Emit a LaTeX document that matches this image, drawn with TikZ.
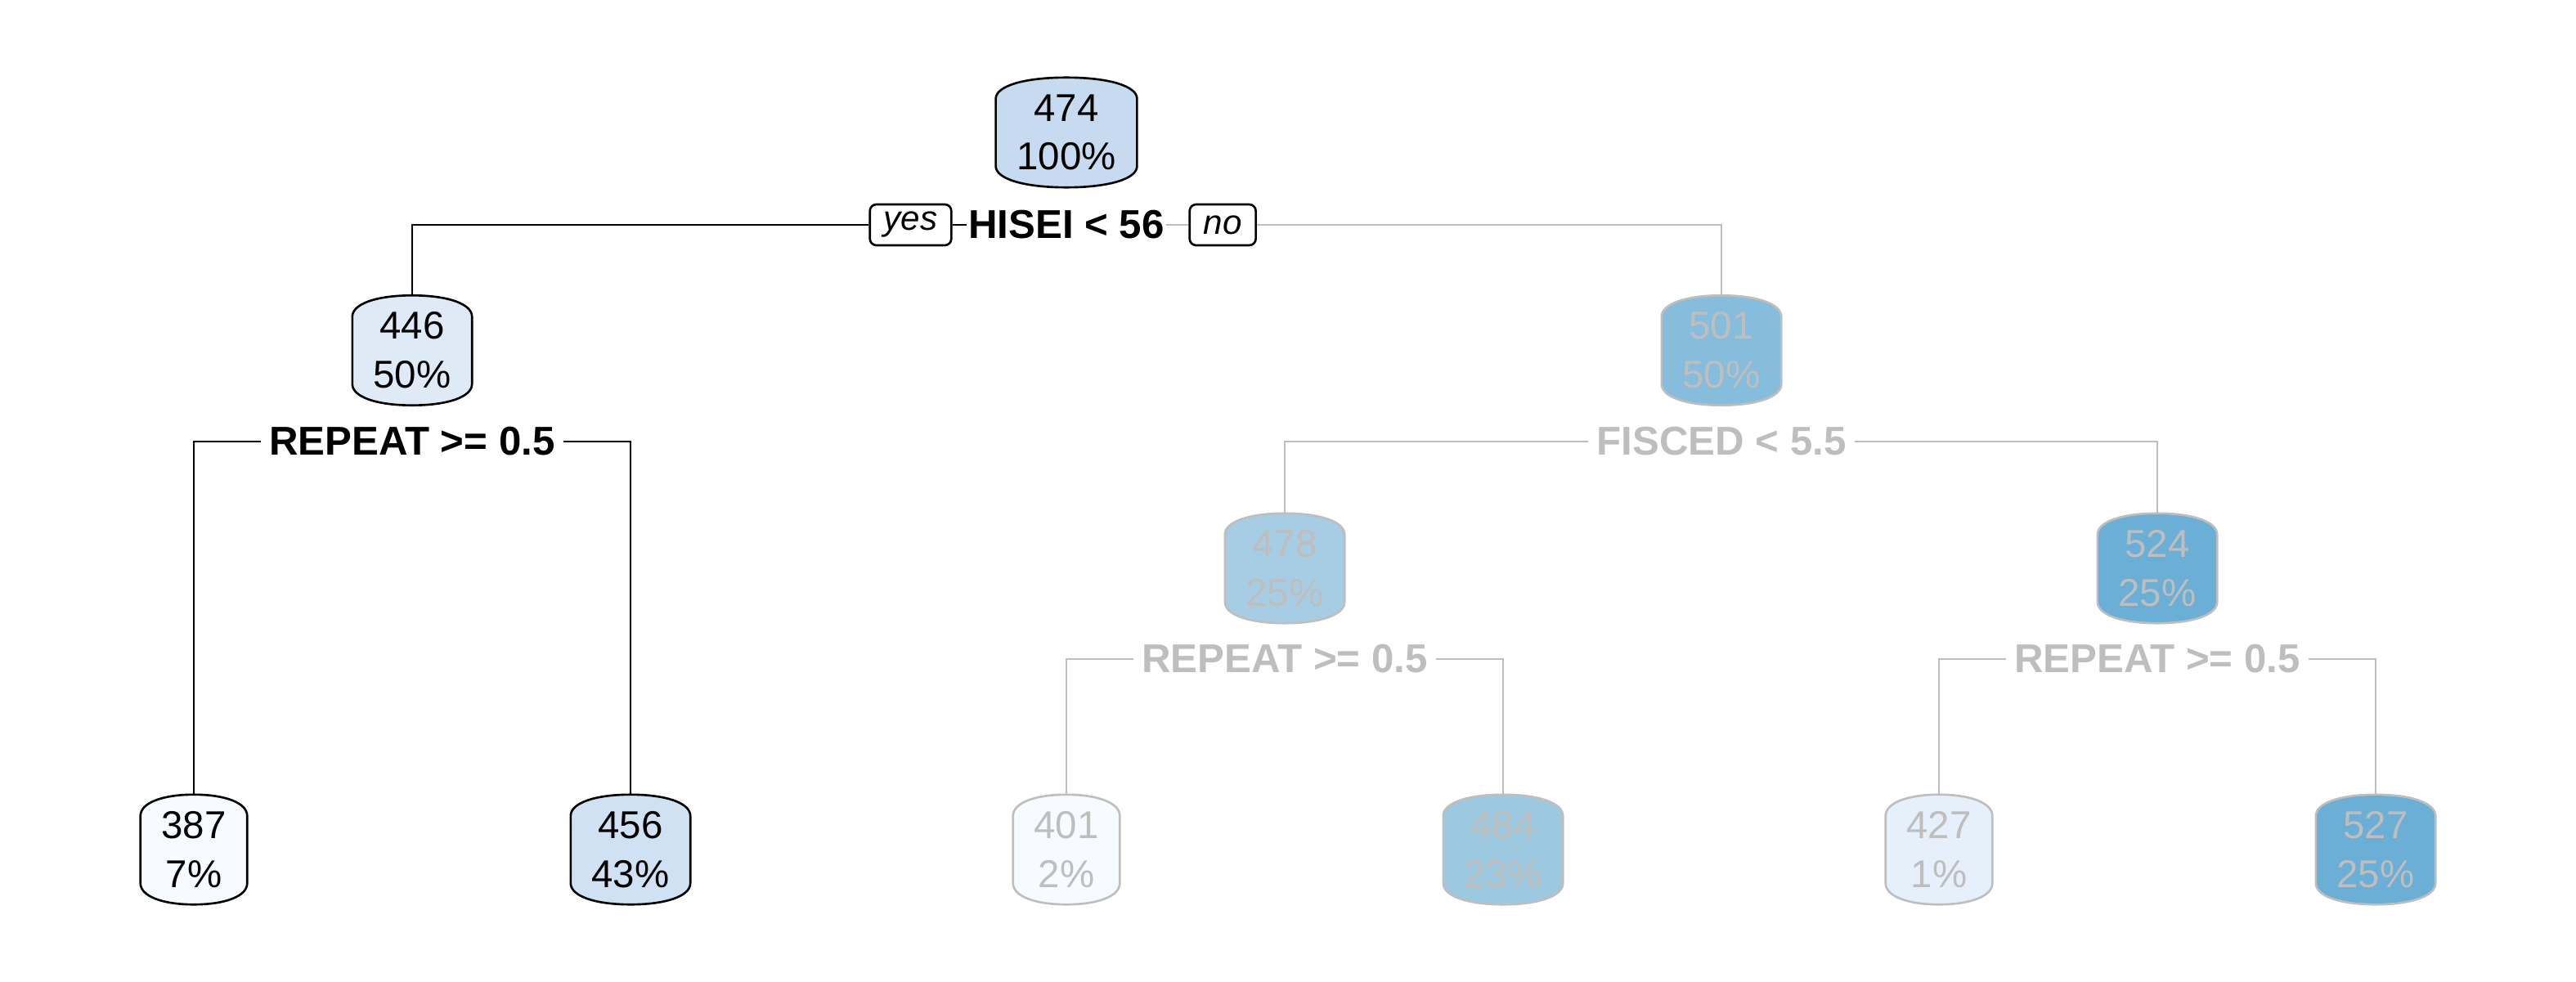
\documentclass[tikz,border=0pt]{standalone}
\usepackage{fontspec}
\setmainfont{Liberation Sans}
\usetikzlibrary{calc,backgrounds}
\definecolor{lg}{HTML}{BEBEBE}
\definecolor{f474}{HTML}{C6DBEF}
\definecolor{f446}{HTML}{DEEBF7}
\definecolor{f387}{HTML}{F7FBFF}
\definecolor{f456}{HTML}{CFE1F2}
\definecolor{f501}{HTML}{86BCDC}
\definecolor{f478}{HTML}{A6CDE4}
\definecolor{f524}{HTML}{6BAED6}
\definecolor{f401}{HTML}{F7FBFF}
\definecolor{f484}{HTML}{9DC9E0}
\definecolor{f427}{HTML}{E6F0FA}
\definecolor{f527}{HTML}{6BAED6}
\tikzset{
  leafbox/.style={inner xsep=0.25cm, inner ysep=0pt, minimum height=1.33cm,
    align=center, font=\fontsize{13.5}{17}\selectfont},
  splitlabel/.style={font=\bfseries\fontsize{14}{16}\selectfont, inner xsep=0.1cm, inner ysep=0pt},
  yesno/.style={draw, line width=0.75pt, rounded corners=0.08cm,
    font=\itshape\fontsize{12}{14}\selectfont, inner xsep=0.17cm, inner ysep=0pt, minimum height=0.5cm},
  conn/.style={line width=0.75pt},
}
\newcommand\capsule[3]{%
  \begin{scope}[on background layer]
  \path[fill=#2, draw=#3, line width=0.75pt]
    let \p1=(#1.north west), \p2=(#1.south east), \n1={0.26cm}, \n2={(\x2-\x1)/2} in
    (\x1,\y1-\n1) .. controls (\x1,\y1-0.4*\n1) and (\x1+0.4*\n2,\y1) .. (\x1+\n2,\y1)
    .. controls (\x2-0.4*\n2,\y1) and (\x2,\y1-0.4*\n1) .. (\x2,\y1-\n1)
    -- (\x2,\y2+\n1)
    .. controls (\x2,\y2+0.4*\n1) and (\x2-0.4*\n2,\y2) .. (\x1+\n2,\y2)
    .. controls (\x1+0.4*\n2,\y2) and (\x1,\y2+0.4*\n1) .. (\x1,\y2+\n1) -- cycle;
  \end{scope}}
\begin{document}
\begin{tikzpicture}
\useasboundingbox (0,0) rectangle (31.5,12);
% nodes
\node[leafbox] (n1) at (13.04,10.38) {474\\100\%};
\node[leafbox] (n2) at (5.04,7.715) {446\\50\%};
\node[leafbox,text=lg] (n3) at (21.05,7.715) {501\\50\%};
\node[leafbox] (n4) at (2.37,1.61) {387\\7\%};
\node[leafbox] (n5) at (7.71,1.61) {456\\43\%};
\node[leafbox,text=lg] (n6) at (15.71,5.05) {478\\25\%};
\node[leafbox,text=lg] (n7) at (26.38,5.05) {524\\25\%};
\node[leafbox,text=lg] (n12) at (13.04,1.61) {401\\2\%};
\node[leafbox,text=lg] (n13) at (18.38,1.61) {484\\23\%};
\node[leafbox,text=lg] (n14) at (23.71,1.61) {427\\1\%};
\node[leafbox,text=lg] (n15) at (29.05,1.61) {527\\25\%};
\capsule{n1}{f474}{black}
\capsule{n2}{f446}{black}
\capsule{n3}{f501}{lg}
\capsule{n4}{f387}{black}
\capsule{n5}{f456}{black}
\capsule{n6}{f478}{lg}
\capsule{n7}{f524}{lg}
\capsule{n12}{f401}{lg}
\capsule{n13}{f484}{lg}
\capsule{n14}{f427}{lg}
\capsule{n15}{f527}{lg}
% split labels
\node[splitlabel, inner xsep=0.02cm] (s1) at (13.04,9.25) {HISEI < 56};
\node[yesno, anchor=east] (yes) at ([xshift=-0.17cm]s1.west) {yes};
\node[yesno, anchor=west, draw=black] (no) at ([xshift=0.27cm]s1.east) {no};
\node[splitlabel] (s2) at (5.04,6.60) {REPEAT >= 0.5};
\node[splitlabel,text=lg] (s3) at (21.05,6.60) {FISCED < 5.5};
\node[splitlabel,text=lg] (s6) at (15.71,3.94) {REPEAT >= 0.5};
\node[splitlabel,text=lg] (s7) at (26.38,3.94) {REPEAT >= 0.5};
% connectors
\draw[conn] (yes.west) -| (n2.north);
\draw[conn] (yes.east) -- (s1.west);
\draw[conn,lg] (s1.east) -- (no.west);
\draw[conn,lg] (no.east) -| (n3.north);
\draw[conn] (s2.west) -| (n4.north);
\draw[conn] (s2.east) -| (n5.north);
\draw[conn,lg] (s3.west) -| (n6.north);
\draw[conn,lg] (s3.east) -| (n7.north);
\draw[conn,lg] (s6.west) -| (n12.north);
\draw[conn,lg] (s6.east) -| (n13.north);
\draw[conn,lg] (s7.west) -| (n14.north);
\draw[conn,lg] (s7.east) -| (n15.north);
\end{tikzpicture}
\end{document}
